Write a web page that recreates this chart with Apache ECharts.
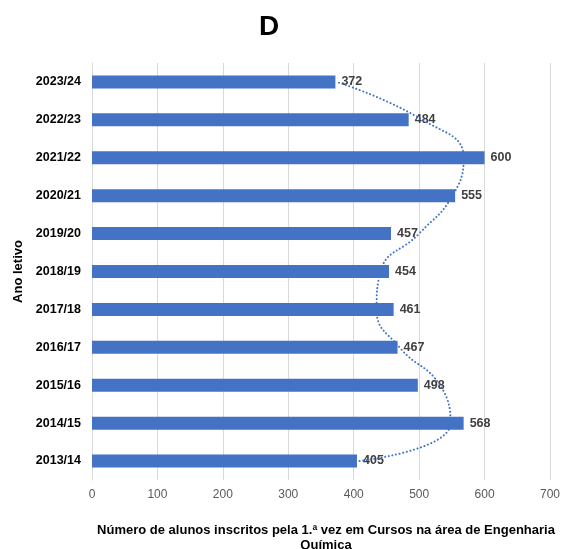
<!DOCTYPE html>
<html>
<head>
<meta charset="utf-8">
<script src="https://cdn.jsdelivr.net/npm/echarts@6/dist/echarts.min.js"></script>
<style>
  html, body { margin: 0; padding: 0; background: #ffffff; }
  #chart { width: 566px; height: 549px; }
</style>
</head>
<body>
<div id="chart"></div>
<script>
// Academic years, bottom to top
const anos = ['2013/14', '2014/15', '2015/16', '2016/17', '2017/18', '2018/19',
              '2019/20', '2020/21', '2021/22', '2022/23', '2023/24'];
// First-time enrolments in Chemical Engineering courses
const inscritos = [405, 568, 498, 467, 461, 454, 457, 555, 600, 484, 372];
// Polynomial trend line values at each year
const tendencia = [409, 548, 532, 470, 435, 441, 500, 551, 568, 505, 374];
// Value axis ticks
const ticksX = [0, 100, 200, 300, 400, 500, 600, 700];

const font = '"Liberation Sans", Arial, sans-serif';
const chart = echarts.init(document.getElementById('chart'));

chart.setOption({
  animation: false,
  backgroundColor: '#ffffff',
  title: {
    text: 'D',
    left: 254,
    top: 8,
    textStyle: { fontFamily: font, fontSize: 28, fontWeight: 'bold', color: '#000000' }
  },
  grid: { left: 92, right: 16, top: 63, bottom: 69, containLabel: false, outerBoundsMode: 'none' },
  xAxis: {
    type: 'value',
    min: ticksX[0],
    max: ticksX[ticksX.length - 1],
    interval: 100,
    name: 'Número de alunos inscritos pela 1.ª vez em Cursos na área de Engenharia\nQuímica',
    nameLocation: 'middle',
    nameGap: 43,
    nameTextStyle: { fontFamily: font, fontSize: 13, fontWeight: 'bold', color: '#000000', lineHeight: 15, padding: [0, 0, 0, 10] },
    axisLine: { show: false },
    axisTick: { show: false },
    splitLine: { show: true, lineStyle: { color: '#d9d9d9', width: 1 } },
    axisLabel: { fontFamily: font, fontSize: 12, color: '#595959', margin: 9 }
  },
  yAxis: {
    type: 'category',
    data: anos,
    name: 'Ano letivo',
    nameLocation: 'middle',
    nameGap: 60,
    nameRotate: 90,
    nameTextStyle: { fontFamily: font, fontSize: 13, fontWeight: 'bold', color: '#000000' },
    axisLine: { show: true, lineStyle: { color: '#d9d9d9', width: 1 } },
    axisTick: { show: false },
    axisLabel: { fontFamily: font, fontSize: 12.5, fontWeight: 'bold', color: '#000000', margin: 11 }
  },
  series: [
    {
      type: 'bar',
      data: inscritos,
      barWidth: 13,
      itemStyle: { color: '#4472c4' },
      label: {
        show: true,
        position: 'right',
        distance: 6,
        fontFamily: font,
        fontSize: 12.5,
        fontWeight: 'bold',
        color: '#404040'
      }
    },
    {
      type: 'line',
      data: tendencia,
      smooth: true,
      symbol: 'none',
      silent: true,
      lineStyle: { color: '#4472c4', width: 2, type: [0.1, 3.6], cap: 'round' },
      z: 3
    }
  ]
});
</script>
</body>
</html>
